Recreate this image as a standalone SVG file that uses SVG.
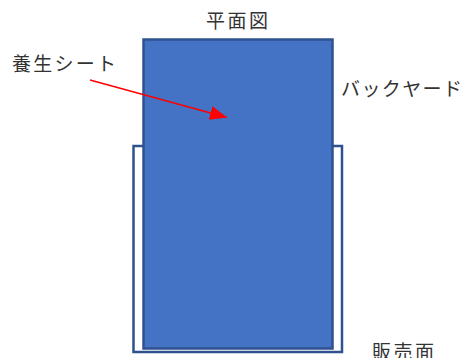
<svg xmlns="http://www.w3.org/2000/svg" width="465" height="358" viewBox="0 0 465 358">
<style>
.t{font-family:"Noto Sans CJK JP","Liberation Sans",sans-serif;font-size:19px;fill:#333}
</style>
<defs>
<marker id="ah" markerUnits="userSpaceOnUse" markerWidth="18" markerHeight="16" refX="17" refY="7" orient="auto">
<path d="M0,0 L17,7 L0,14 Z" fill="#FF0000"/>
</marker>
</defs>
<rect width="465" height="358" fill="#fff"/>
<g id="sales-floor">
<rect x="133.5" y="146" width="208.5" height="206" fill="#fff" stroke="#2F528F" stroke-width="2.5"/>
</g>
<g id="curing-sheet">
<rect x="143.5" y="39.5" width="189" height="309" fill="#4472C4" stroke="#2F528F" stroke-width="2.5"/>
</g>
<g id="connectors">
<line x1="90" y1="80" x2="227" y2="117.5" stroke="#FF0000" stroke-width="1.5" marker-end="url(#ah)"/>
</g>
<g id="labels">
<text class="t" x="206" y="28" textLength="62" lengthAdjust="spacing">平面図</text>
<text class="t" x="12" y="71" textLength="104" lengthAdjust="spacing">養生シート</text>
<text class="t" x="341" y="96" textLength="121" lengthAdjust="spacing">バックヤード</text>
<text class="t" x="372" y="359" textLength="62" lengthAdjust="spacing">販売面</text>
</g>
</svg>
